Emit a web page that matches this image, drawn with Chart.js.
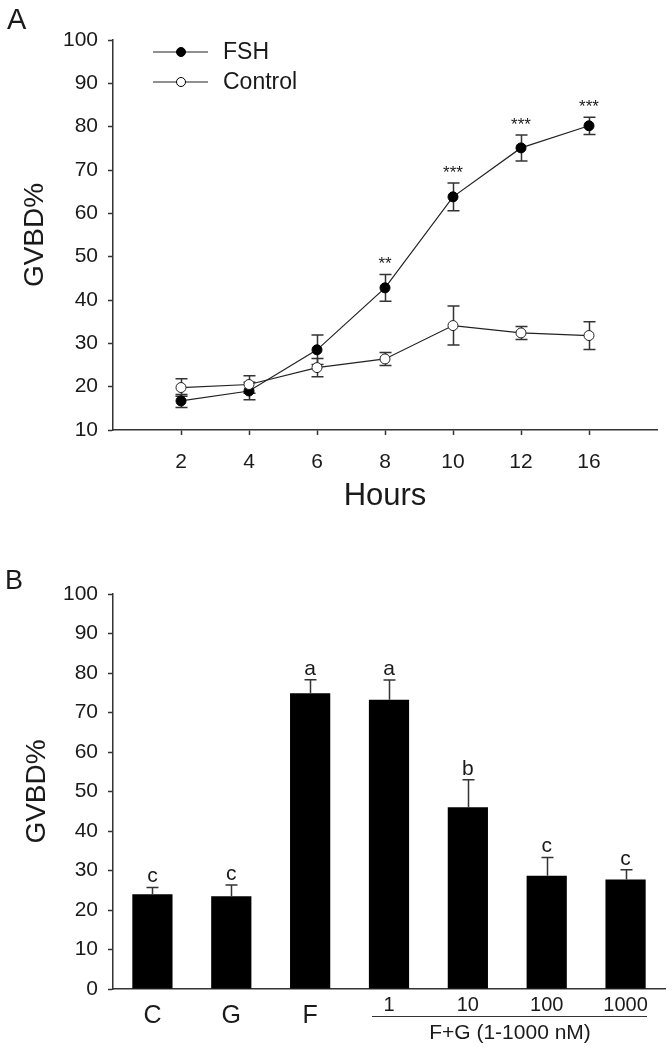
<!DOCTYPE html>
<html><head><meta charset="utf-8">
<script src="https://cdn.jsdelivr.net/npm/chart.js@4"></script>
<style>
html,body{margin:0;padding:0;background:#fff;}
#wrap{position:relative;width:672px;height:1050px;}
.box{position:absolute;left:0;width:672px;height:525px;}
canvas{display:block;}
</style></head><body>
<div id="wrap">
<div class="box" style="top:0"><canvas id="cA" width="672" height="525"></canvas></div>
<div class="box" style="top:525px"><canvas id="cB" width="672" height="525"></canvas></div>
</div>
<script>
// ---- Panel A data ----
const hours = ['2','4','6','8','10','12','16'];
const fshMean = [16.7, 19.0, 28.5, 42.8, 63.8, 75.1, 80.2];
const fshErr  = [1.5, 2.0, 3.4, 3.1, 3.2, 3.0, 2.0];
const ctrlMean = [19.8, 20.5, 24.4, 26.4, 34.1, 32.4, 31.8];
const ctrlErr  = [2.0, 2.0, 2.1, 1.5, 4.5, 1.5, 3.2];
const stars = ['', '', '', '**', '***', '***', '***'];
const yTicksA = [10, 100, 10]; // min, max, step

// ---- Panel B data ----
const groups = ['C', 'G', 'F', '1', '10', '100', '1000'];
const barMean = [24.0, 23.5, 74.9, 73.2, 46.0, 28.7, 27.7];
const barErr  = [1.7, 2.8, 3.4, 5.0, 7.0, 4.6, 2.5];
const letters = ['c', 'c', 'a', 'a', 'b', 'c', 'c'];
const groupLabel = 'F+G (1-1000 nM)';
const yTicksB = [0, 100, 10];

const FONT = "'Liberation Sans', Arial, sans-serif";
const INK = '#1a1a1a';
const AX = '#333';

function drawErrors(chart, opts) {
  const ctx = chart.ctx, ys = chart.scales.y;
  ctx.save();
  ctx.strokeStyle = AX; ctx.lineWidth = 1.5;
  chart.data.datasets.forEach((ds, di) => {
    const meta = chart.getDatasetMeta(di);
    meta.data.forEach((el, i) => {
      const raw = ds.data[i];
      const v = (typeof raw === 'object') ? raw.y : raw;
      const e = ds.errors[i];
      const px = Math.round(el.x) + 0.5;
      const top = ys.getPixelForValue(v + e);
      const bot = opts.upOnly ? ys.getPixelForValue(v) : ys.getPixelForValue(v - e);
      ctx.beginPath();
      ctx.moveTo(px, bot); ctx.lineTo(px, top);
      ctx.moveTo(px - 6, top); ctx.lineTo(px + 6, top);
      if (!opts.upOnly) { ctx.moveTo(px - 6, bot); ctx.lineTo(px + 6, bot); }
      ctx.stroke();
    });
  });
  ctx.restore();
}

const errA = { id: 'errA', beforeDatasetsDraw(chart) { drawErrors(chart, {upOnly: false}); } };

const decoA = {
  id: 'decoA',
  afterDraw(chart) {
    const ctx = chart.ctx, xs = chart.scales.x, ys = chart.scales.y;
    ctx.save();
    // stars
    ctx.fillStyle = INK; ctx.font = '17px ' + FONT; ctx.textAlign = 'center'; ctx.textBaseline = 'alphabetic';
    stars.forEach((s, i) => {
      if (!s) return;
      const px = xs.getPixelForValue(i + 1);
      const top = ys.getPixelForValue(fshMean[i] + fshErr[i]);
      ctx.fillText(s, px, top - 5);
    });
    // legend
    const items = [{t: 'FSH', y: 52, fill: '#000'}, {t: 'Control', y: 82, fill: '#fff'}];
    items.forEach(it => {
      ctx.strokeStyle = '#222'; ctx.lineWidth = 1.2;
      ctx.beginPath(); ctx.moveTo(153, it.y); ctx.lineTo(208, it.y); ctx.stroke();
      ctx.beginPath(); ctx.arc(181, it.y, 4.5, 0, Math.PI * 2);
      ctx.fillStyle = it.fill; ctx.fill(); ctx.strokeStyle = '#000'; ctx.lineWidth = 1; ctx.stroke();
      ctx.fillStyle = INK; ctx.font = '23px ' + FONT; ctx.textAlign = 'left'; ctx.textBaseline = 'middle';
      ctx.fillText(it.t, 223, it.y + 1);
    });
    // panel letter
    ctx.font = '29px ' + FONT; ctx.textAlign = 'left'; ctx.textBaseline = 'alphabetic';
    ctx.fillText('A', 7, 29);
    ctx.restore();
  }
};

new Chart(document.getElementById('cA'), {
  type: 'line',
  data: {
    datasets: [
      {label: 'FSH', data: fshMean.map((v, i) => ({x: i + 1, y: v})), errors: fshErr,
       borderColor: '#222', borderWidth: 1.2, pointRadius: 5, pointBackgroundColor: '#000',
       pointBorderColor: '#000', pointBorderWidth: 1, tension: 0, order: 1},
      {label: 'Control', data: ctrlMean.map((v, i) => ({x: i + 1, y: v})), errors: ctrlErr,
       borderColor: '#222', borderWidth: 1.2, pointRadius: 5, pointBackgroundColor: '#fff',
       pointBorderColor: '#222', pointBorderWidth: 1, tension: 0, order: 0}
    ]
  },
  options: {
    responsive: false, animation: false, devicePixelRatio: 1,
    layout: {padding: {top: 40, right: 15, left: 0, bottom: 0}},
    plugins: {legend: {display: false}, tooltip: {enabled: false}},
    scales: {
      x: {
        type: 'linear', min: 0, max: 8,
        afterBuildTicks: s => { s.ticks = hours.map((h, i) => ({value: i + 1})); },
        afterFit: s => { s.height = 95; },
        grid: {drawOnChartArea: false, tickLength: 5, tickColor: AX, tickWidth: 1.5},
        border: {color: AX, width: 1.5},
        ticks: {callback: v => hours[v - 1], font: {family: FONT, size: 21}, color: INK, padding: 15, maxRotation: 0, autoSkip: false},
        title: {display: true, text: 'Hours', font: {family: FONT, size: 31}, color: INK, padding: {top: 0, bottom: 10}}
      },
      y: {
        min: yTicksA[0], max: yTicksA[1],
        afterFit: s => { s.width = 113; },
        grid: {drawOnChartArea: false, tickLength: 5, tickColor: AX, tickWidth: 1.5},
        border: {color: AX, width: 1.5},
        ticks: {stepSize: yTicksA[2], font: {family: FONT, size: 21}, color: INK, padding: 10},
        title: {display: true, text: 'GVBD%', font: {family: FONT, size: 28}, color: INK, padding: {top: 18, bottom: 0}}
      }
    }
  },
  plugins: [errA, decoA]
});

const errB = { id: 'errB', afterDatasetsDraw(chart) { drawErrors(chart, {upOnly: true}); } };

const decoB = {
  id: 'decoB',
  afterDraw(chart) {
    const ctx = chart.ctx, ys = chart.scales.y;
    const meta = chart.getDatasetMeta(0);
    ctx.save();
    ctx.fillStyle = INK; ctx.font = '21px ' + FONT; ctx.textAlign = 'center'; ctx.textBaseline = 'alphabetic';
    letters.forEach((l, i) => {
      const top = ys.getPixelForValue(barMean[i] + barErr[i]);
      ctx.fillText(l, meta.data[i].x, top - 5);
    });
    // group underline + label
    ctx.strokeStyle = AX; ctx.lineWidth = 1.2;
    ctx.beginPath(); ctx.moveTo(372, 491.5); ctx.lineTo(647, 491.5); ctx.stroke();
    ctx.font = '21px ' + FONT;
    ctx.fillText(groupLabel, 510, 514);
    // panel letter
    ctx.font = '27px ' + FONT; ctx.textAlign = 'left';
    ctx.fillText('B', 5, 64);
    ctx.restore();
  }
};

new Chart(document.getElementById('cB'), {
  type: 'bar',
  data: {
    labels: groups,
    datasets: [{data: barMean, errors: barErr, backgroundColor: '#000', borderWidth: 0,
                barPercentage: 0.51, categoryPercentage: 1}]
  },
  options: {
    responsive: false, animation: false, devicePixelRatio: 1,
    layout: {padding: {top: 69, right: 7, left: 0, bottom: 0}},
    plugins: {legend: {display: false}, tooltip: {enabled: false}},
    scales: {
      x: {
        afterFit: s => { s.height = 61; },
        grid: {drawOnChartArea: false, drawTicks: false},
        border: {color: AX, width: 1.5},
        ticks: {
          padding: 3, color: INK, autoSkip: false, maxRotation: 0,
          font: c => c.index < 3 ? {family: FONT, size: 25, lineHeight: '48px'} : {family: FONT, size: 20, lineHeight: '26px'}
        }
      },
      y: {
        min: yTicksB[0], max: yTicksB[1],
        afterFit: s => { s.width = 113; },
        grid: {drawOnChartArea: false, tickLength: 5, tickColor: AX, tickWidth: 1.5},
        border: {color: AX, width: 1.5},
        ticks: {stepSize: yTicksB[2], font: {family: FONT, size: 21}, color: INK, padding: 10},
        title: {display: true, text: 'GVBD%', font: {family: FONT, size: 28}, color: INK, padding: {top: 20, bottom: 0}}
      }
    }
  },
  plugins: [errB, decoB]
});
</script>
</body></html>
